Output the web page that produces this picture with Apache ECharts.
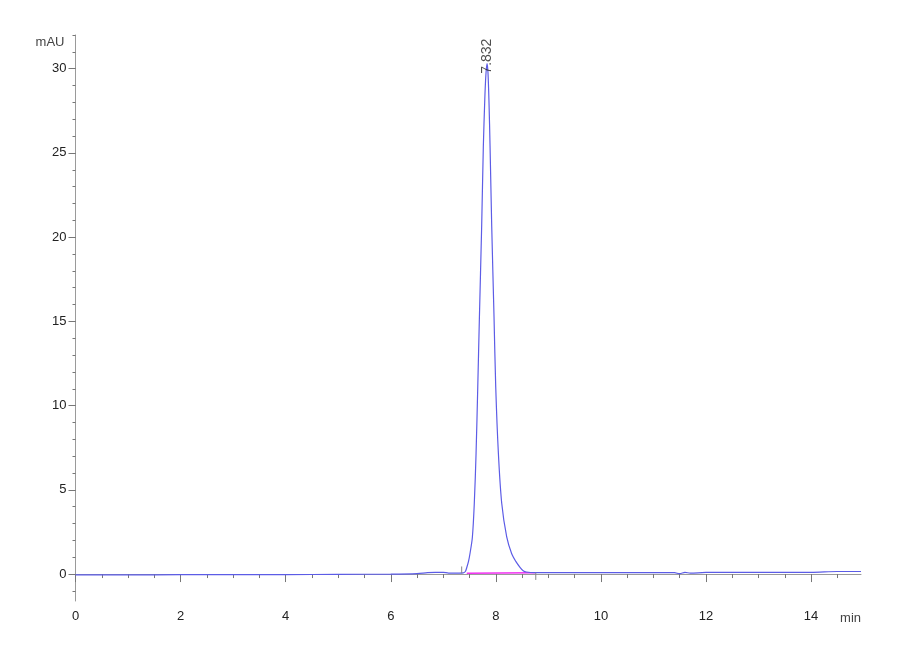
<!DOCTYPE html>
<html>
<head>
<meta charset="utf-8">
<script src="https://cdn.jsdelivr.net/npm/echarts@6/dist/echarts.min.js"></script>
<style>html,body{margin:0;padding:0;background:#fff}#c{width:900px;height:660px}</style>
</head>
<body>
<div id="c"></div>
<script>
// retention time (min)
const times = [0,1,2,3,4,5,6,6.5,6.7,6.85,7.0,7.1,7.2,7.3,7.38,7.42,7.447,7.48,7.51,7.553,7.59,7.624,7.656,7.686,7.73,7.762,7.79,7.81,7.832,7.85,7.87,7.89,7.922,7.966,7.998,8.048,8.112,8.207,8.302,8.38,8.46,8.52,8.58,8.75,9.5,10,10.5,11,11.4,11.5,11.6,11.7,12,12.5,13,13.5,14,14.5,14.95];
// absorbance (mAU)
const signal = [-0.05,-0.05,-0.04,-0.04,-0.03,-0.02,0.0,0.03,0.08,0.1,0.1,0.06,0.06,0.06,0.07,0.15,0.39,0.75,1.25,2.17,4.19,7.19,11.1,15.07,20.6,25.36,28.2,29.6,30.3,29.8,28.0,25.4,20.6,15.2,11.1,7.2,4.2,2.2,1.2,0.75,0.4,0.2,0.12,0.08,0.08,0.08,0.09,0.08,0.08,0.02,0.1,0.05,0.1,0.1,0.1,0.1,0.1,0.15,0.15];
// integration baseline
const baseTimes = [7.447, 8.745];
const baseValues = [0.05, 0.08];
// integration markers
const startMarker = [[7.35, 0.05], [7.35, 0.45]];
const endMarker = [[8.76, 0.08], [8.76, -0.35]];
// peak annotation
const peakTimes = [7.832];
const peakHeights = [30.3];
// ticks
const xTickLabels = [0,2,4,6,8,10,12,14];
const xMinorTicks = [0,0.5,1,1.5,2,2.5,3,3.5,4,4.5,5,5.5,6,6.5,7,7.5,8,8.5,9,9.5,10,10.5,11,11.5,12,12.5,13,13.5,14,14.5];
const yTickLabels = [0,5,10,15,20,25,30];
const yMinorTicks = [-1,0,1,2,3,4,5,6,7,8,9,10,11,12,13,14,15,16,17,18,19,20,21,22,23,24,25,26,27,28,29,30,31,32];
const xUnit = 'min';
const yUnit = 'mAU';

const FONT = '"Liberation Sans Narrow", "Arial Narrow", "Liberation Sans", Arial, sans-serif';
const AX = '#9a9a9a';
const XMIN = 0, XMAX = 14.95, YMIN = -1.6, YMAX = 32;

const chart = echarts.init(document.getElementById('c'), null, {renderer: 'canvas'});
const baseAxisX = {
  type: 'value', min: XMIN, max: XMAX, gridIndex: 0, position: 'bottom',
  splitLine: {show: false}
};
const baseAxisY = {
  type: 'value', min: YMIN, max: YMAX, gridIndex: 0, position: 'left',
  splitLine: {show: false}
};
chart.setOption({
  animation: false,
  backgroundColor: '#fff',
  grid: {left: 75.5, right: 39, top: 35, bottom: 59},
  xAxis: [
    Object.assign({}, baseAxisX, {
      axisLine: {show: true, lineStyle: {color: AX, width: 1}},
      axisTick: {show: true, length: 4, inside: false, customValues: xMinorTicks, lineStyle: {color: '#777'}},
      axisLabel: {show: true, customValues: xTickLabels, margin: 9, fontFamily: FONT, fontSize: 13, color: '#222',
        formatter: v => String(v), showMaxLabel: true, showMinLabel: true}
    }),
    Object.assign({}, baseAxisX, {
      axisLine: {show: false},
      axisTick: {show: true, length: 8, customValues: xTickLabels, lineStyle: {color: '#777'}},
      axisLabel: {show: false}
    })
  ],
  yAxis: [
    Object.assign({}, baseAxisY, {
      name: yUnit, nameLocation: 'end', nameGap: 0, nameMoveOverlap: false,
      nameTextStyle: {fontFamily: FONT, fontSize: 13, color: '#444', align: 'right', verticalAlign: 'top', padding: [1, 11, 0, 0]},
      axisLine: {show: true, lineStyle: {color: AX, width: 1}},
      axisTick: {show: true, length: 3, customValues: yMinorTicks, lineStyle: {color: '#777'}},
      axisLabel: {show: true, customValues: yTickLabels, margin: 9, fontFamily: FONT, fontSize: 13, color: '#222',
        formatter: v => String(v)}
    }),
    Object.assign({}, baseAxisY, {
      axisLine: {show: false},
      axisTick: {show: true, length: 7, customValues: yTickLabels, lineStyle: {color: '#777'}},
      axisLabel: {show: false}
    })
  ],
  series: [
    {
      type: 'line', xAxisIndex: 0, yAxisIndex: 0,
      data: baseTimes.map((t, i) => [t, baseValues[i]]),
      showSymbol: false, symbol: 'none',
      lineStyle: {color: '#f030f0', width: 1.5}, z: 3
    },
    {
      type: 'line', xAxisIndex: 0, yAxisIndex: 0,
      data: times.map((t, i) => [t, signal[i]]),
      showSymbol: false, symbol: 'none', smooth: 0.3,
      lineStyle: {color: '#5c5ce6', width: 1.2}, z: 4
    },
    {
      type: 'line', data: startMarker, showSymbol: false, symbol: 'none',
      lineStyle: {color: '#888', width: 1}, z: 5
    },
    {
      type: 'line', data: endMarker, showSymbol: false, symbol: 'none',
      lineStyle: {color: '#888', width: 1}, z: 5
    },
    {
      type: 'scatter', symbolSize: 0, z: 6,
      data: peakTimes.map((t, i) => [t, peakHeights[i]]),
      label: {
        show: true, position: 'top', distance: -10, rotate: 90,
        align: 'left', verticalAlign: 'middle',
        formatter: p => p.value[0].toFixed(3),
        fontFamily: '"Liberation Sans", Arial, sans-serif', fontSize: 14, color: '#222'
      }
    }
  ]
});
// x unit label placed at the end of the x axis (computed through the axis scale)
const endPt = chart.convertToPixel({xAxisIndex: 0, yAxisIndex: 0}, [XMAX, YMIN]);
chart.setOption({
  graphic: [{
    type: 'text', x: endPt[0], y: endPt[1] + 11,
    style: {text: xUnit, fontFamily: FONT, fontSize: 13, fill: '#444', align: 'right', verticalAlign: 'top'}
  }]
});
</script>
</body>
</html>
